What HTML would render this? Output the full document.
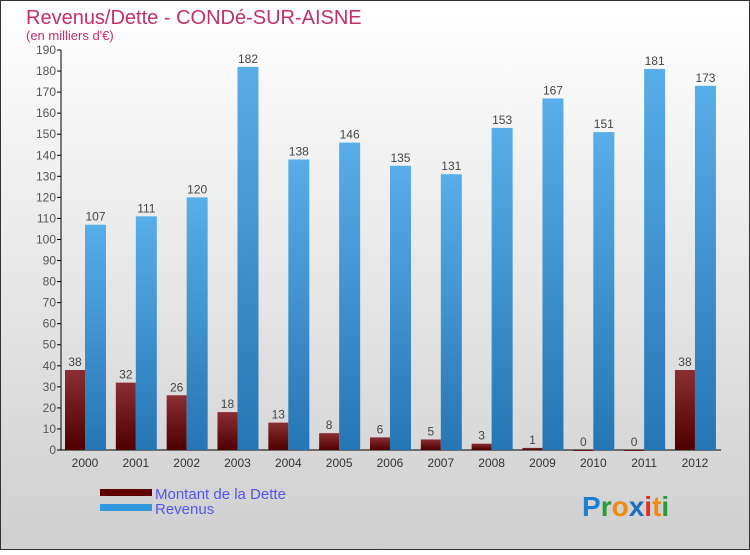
<!DOCTYPE html>
<html><head><meta charset="utf-8"><style>
body{margin:0;width:750px;height:550px;overflow:hidden;font-family:"Liberation Sans",sans-serif}
</style></head><body>
<svg width="750" height="550" xmlns="http://www.w3.org/2000/svg">
<defs>
<linearGradient id="bg" x1="0" y1="0" x2="0" y2="1"><stop offset="0" stop-color="#ffffff"/><stop offset="1" stop-color="#cfcfcf"/></linearGradient>
<linearGradient id="gd" x1="0" y1="0" x2="0" y2="1"><stop offset="0" stop-color="#8a2e32"/><stop offset="1" stop-color="#4e0000"/></linearGradient>
<linearGradient id="gr" x1="0" y1="0" x2="0" y2="1"><stop offset="0" stop-color="#58aee8"/><stop offset="1" stop-color="#2576b4"/></linearGradient>
</defs>
<rect x="0.5" y="0.5" width="749" height="549" fill="url(#bg)" stroke="#333"/>
<text x="26" y="24" font-size="20" fill="#c2306a">Revenus/Dette - CONDé-SUR-AISNE</text>
<text x="26" y="40" font-size="13" fill="#c2306a">(en milliers d'€)</text>
<g id="axes"></g>
<g id="bars"></g>
<g>
<rect x="100" y="489" width="52" height="7" fill="#5e0000"/>
<text x="155" y="499" font-size="15" fill="#5555ee">Montant de la Dette</text>
<rect x="100" y="504" width="52" height="7" fill="#3398dd"/>
<text x="155" y="514" font-size="15" fill="#5555ee">Revenus</text>
</g>
<text x="582" y="516" font-size="28" font-weight="bold"><tspan fill="#1a7fd0">P</tspan><tspan fill="#2a9a3a">r</tspan><tspan fill="#f08a10">o</tspan><tspan fill="#1a6fc0">x</tspan><tspan fill="#e03020">i</tspan><tspan fill="#f08a10">t</tspan><tspan fill="#2a9a3a">i</tspan></text>
</svg>
<script>
const years=["2000","2001","2002","2003","2004","2005","2006","2007","2008","2009","2010","2011","2012"];
const dette=[38,32,26,18,13,8,6,5,3,1,0,0,38];
const revenus=[107,111,120,182,138,146,135,131,153,167,151,181,173];
const yTicks=[0,10,20,30,40,50,60,70,80,90,100,110,120,130,140,150,160,170,180,190];
const NS="http://www.w3.org/2000/svg";
const y0=450,yTop=50,yMax=190,x0=61,step=50.83;
const ys=v=>y0-(v/yMax)*(y0-yTop);
const xc=i=>85+i*step;
function mk(t,a,p){const e=document.createElementNS(NS,t);for(const k in a)e.setAttribute(k,a[k]);p.appendChild(e);return e;}
const ax=document.getElementById('axes'),bg=document.getElementById('bars');
let l=mk('line',{x1:x0,y1:yTop,x2:x0,y2:y0,stroke:'#000'},ax);


l=mk('line',{x1:x0,y1:y0,x2:721,y2:y0,stroke:'#000'},ax);


yTicks.forEach(v=>{
 mk('line',{x1:x0-4,y1:ys(v),x2:x0,y2:ys(v),stroke:'#000'},ax);
 const t=mk('text',{x:x0-5,y:ys(v)+4,'font-size':12,fill:'#555','text-anchor':'end'},ax);
 t.textContent=v;
 
 
});
years.forEach((y,i)=>{
 const c=xc(i);
 const t=mk('text',{x:c,y:467,'font-size':12,fill:'#333','text-anchor':'middle'},ax);
 t.textContent=y;
 
 
 const d=dette[i],r=revenus[i];
 const bd=mk('rect',{x:c-20,y:ys(d),width:20,height:Math.max(y0-ys(d),1),fill:'url(#gd)'},bg);
 
 
 const br=mk('rect',{x:c,y:ys(r),width:21,height:y0-ys(r),fill:'url(#gr)'},bg);
 
 
 const ld=mk('text',{x:c-10,y:ys(d)-4,'font-size':12,fill:'#444','text-anchor':'middle'},bg);
 ld.textContent=d;
 
 
 const lr=mk('text',{x:c+10.5,y:ys(r)-4,'font-size':12,fill:'#444','text-anchor':'middle'},bg);
 lr.textContent=r;
 
 
});
</script>
</body></html>
